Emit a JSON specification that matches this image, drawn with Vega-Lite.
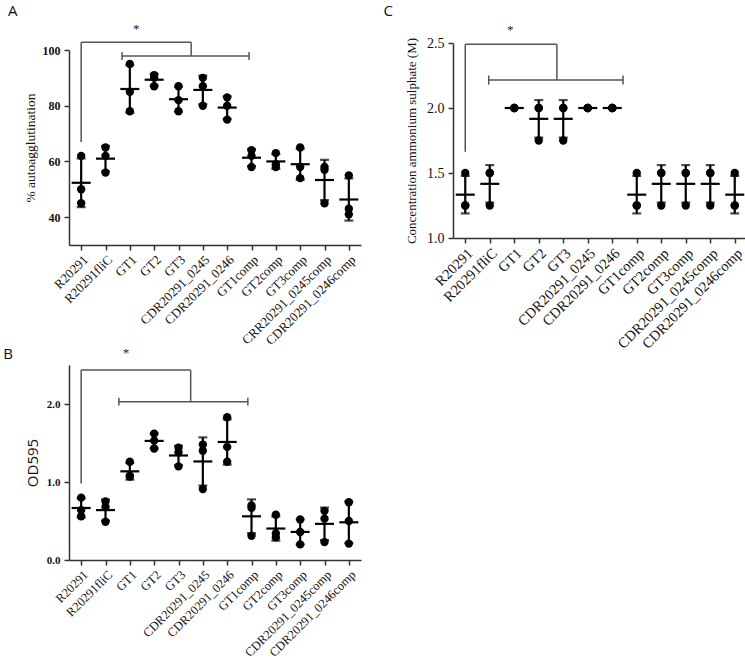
{
  "$schema": "https://vega.github.io/schema/vega-lite/v6.json",
  "padding": {"left": 3, "top": 3, "right": 0, "bottom": 0},
  "background": "white",
  "bounds": "flush",
  "align": "each",
  "columns": 2,
  "spacing": {"column": 92, "row": 120},
  "config": {
    "view": {"stroke": null},
    "axis": {"domainColor": "#333", "domainWidth": 1.5, "tickColor": "#333", "tickWidth": 1.5, "tickSize": 5, "labelColor": "#111", "titleColor": "#111", "grid": false, "labelFont": "Liberation Serif", "titleFont": "Liberation Serif", "titleFontWeight": "normal"},
    "title": {"font": "Open Sans", "fontSize": 15, "fontWeight": "normal", "anchor": "start", "frame": "bounds", "color": "#111"},
    "text": {"color": "#222", "fill": "#222"}
  },
  "datasets": {
    "A": [
      {"s": "R20291", "v": 62}, {"s": "R20291", "v": 50}, {"s": "R20291", "v": 45},
      {"s": "R20291fliC", "v": 65}, {"s": "R20291fliC", "v": 62}, {"s": "R20291fliC", "v": 56},
      {"s": "GT1", "v": 95}, {"s": "GT1", "v": 85}, {"s": "GT1", "v": 78},
      {"s": "GT2", "v": 91}, {"s": "GT2", "v": 90}, {"s": "GT2", "v": 87},
      {"s": "GT3", "v": 87}, {"s": "GT3", "v": 82}, {"s": "GT3", "v": 78},
      {"s": "CDR20291_0245", "v": 90}, {"s": "CDR20291_0245", "v": 87}, {"s": "CDR20291_0245", "v": 80},
      {"s": "CDR20291_0246", "v": 83}, {"s": "CDR20291_0246", "v": 80}, {"s": "CDR20291_0246", "v": 75},
      {"s": "GT1comp", "v": 64}, {"s": "GT1comp", "v": 62}, {"s": "GT1comp", "v": 58},
      {"s": "GT2comp", "v": 63}, {"s": "GT2comp", "v": 59}, {"s": "GT2comp", "v": 58},
      {"s": "GT3comp", "v": 65}, {"s": "GT3comp", "v": 58}, {"s": "GT3comp", "v": 54},
      {"s": "CRR20291_0245comp", "v": 58}, {"s": "CRR20291_0245comp", "v": 57}, {"s": "CRR20291_0245comp", "v": 45},
      {"s": "CDR20291_0246comp", "v": 55}, {"s": "CDR20291_0246comp", "v": 43}, {"s": "CDR20291_0246comp", "v": 41}
    ],
    "B": [
      {"s": "R20291", "v": 0.80}, {"s": "R20291", "v": 0.64}, {"s": "R20291", "v": 0.56},
      {"s": "R20291fliC", "v": 0.75}, {"s": "R20291fliC", "v": 0.68}, {"s": "R20291fliC", "v": 0.49},
      {"s": "GT1", "v": 1.26}, {"s": "GT1", "v": 1.08}, {"s": "GT1", "v": 1.07},
      {"s": "GT2", "v": 1.62}, {"s": "GT2", "v": 1.53}, {"s": "GT2", "v": 1.43},
      {"s": "GT3", "v": 1.44}, {"s": "GT3", "v": 1.38}, {"s": "GT3", "v": 1.20},
      {"s": "CDR20291_0245", "v": 1.48}, {"s": "CDR20291_0245", "v": 1.40}, {"s": "CDR20291_0245", "v": 0.91},
      {"s": "CDR20291_0246", "v": 1.83}, {"s": "CDR20291_0246", "v": 1.45}, {"s": "CDR20291_0246", "v": 1.26},
      {"s": "GT1comp", "v": 0.70}, {"s": "GT1comp", "v": 0.67}, {"s": "GT1comp", "v": 0.31},
      {"s": "GT2comp", "v": 0.58}, {"s": "GT2comp", "v": 0.34}, {"s": "GT2comp", "v": 0.29},
      {"s": "GT3comp", "v": 0.52}, {"s": "GT3comp", "v": 0.36}, {"s": "GT3comp", "v": 0.20},
      {"s": "CDR20291_0245comp", "v": 0.63}, {"s": "CDR20291_0245comp", "v": 0.53}, {"s": "CDR20291_0245comp", "v": 0.23},
      {"s": "CDR20291_0246comp", "v": 0.74}, {"s": "CDR20291_0246comp", "v": 0.50}, {"s": "CDR20291_0246comp", "v": 0.21}
    ],
    "C": [
      {"s": "R20291", "v": 1.5}, {"s": "R20291", "v": 1.25}, {"s": "R20291", "v": 1.25},
      {"s": "R20291fliC", "v": 1.5}, {"s": "R20291fliC", "v": 1.5}, {"s": "R20291fliC", "v": 1.25},
      {"s": "GT1", "v": 2}, {"s": "GT1", "v": 2}, {"s": "GT1", "v": 2},
      {"s": "GT2", "v": 2}, {"s": "GT2", "v": 2}, {"s": "GT2", "v": 1.75},
      {"s": "GT3", "v": 2}, {"s": "GT3", "v": 2}, {"s": "GT3", "v": 1.75},
      {"s": "CDR20291_0245", "v": 2}, {"s": "CDR20291_0245", "v": 2}, {"s": "CDR20291_0245", "v": 2},
      {"s": "CDR20291_0246", "v": 2}, {"s": "CDR20291_0246", "v": 2}, {"s": "CDR20291_0246", "v": 2},
      {"s": "GT1comp", "v": 1.5}, {"s": "GT1comp", "v": 1.25}, {"s": "GT1comp", "v": 1.25},
      {"s": "GT2comp", "v": 1.5}, {"s": "GT2comp", "v": 1.5}, {"s": "GT2comp", "v": 1.25},
      {"s": "GT3comp", "v": 1.5}, {"s": "GT3comp", "v": 1.5}, {"s": "GT3comp", "v": 1.25},
      {"s": "CDR20291_0245comp", "v": 1.5}, {"s": "CDR20291_0245comp", "v": 1.5}, {"s": "CDR20291_0245comp", "v": 1.25},
      {"s": "CDR20291_0246comp", "v": 1.5}, {"s": "CDR20291_0246comp", "v": 1.25}, {"s": "CDR20291_0246comp", "v": 1.25}
    ],
    "Abr": [
      {"x1": 0, "x2": 0, "y1": 67, "y2": 102.8},
      {"x1": 0, "x2": 4.52, "y1": 102.8, "y2": 102.8},
      {"x1": 4.52, "x2": 4.52, "y1": 102.8, "y2": 97.85},
      {"x1": 1.68, "x2": 6.9, "y1": 97.85, "y2": 97.85},
      {"x1": 1.68, "x2": 1.68, "y1": 96.4, "y2": 99.3},
      {"x1": 6.9, "x2": 6.9, "y1": 96.4, "y2": 99.3}
    ],
    "Astar": [{"x": 2.26, "y": 107.6, "t": "*"}],
    "Bbr": [
      {"x1": 0, "x2": 0, "y1": 0.98, "y2": 2.436},
      {"x1": 0, "x2": 4.5, "y1": 2.436, "y2": 2.436},
      {"x1": 4.5, "x2": 4.5, "y1": 2.436, "y2": 2.03},
      {"x1": 1.55, "x2": 6.85, "y1": 2.03, "y2": 2.03},
      {"x1": 1.55, "x2": 1.55, "y1": 1.98, "y2": 2.08},
      {"x1": 6.85, "x2": 6.85, "y1": 1.98, "y2": 2.08}
    ],
    "Bstar": [{"x": 1.84, "y": 2.655, "t": "*"}],
    "Cbr": [
      {"x1": 0, "x2": 0, "y1": 1.664, "y2": 2.49},
      {"x1": 0, "x2": 3.74, "y1": 2.49, "y2": 2.49},
      {"x1": 3.74, "x2": 3.74, "y1": 2.49, "y2": 2.215},
      {"x1": 0.957, "x2": 6.44, "y1": 2.215, "y2": 2.215},
      {"x1": 0.957, "x2": 0.957, "y1": 2.18, "y2": 2.25},
      {"x1": 6.44, "x2": 6.44, "y1": 2.18, "y2": 2.25}
    ],
    "Cstar": [{"x": 1.84, "y": 2.6, "t": "*"}]
  },
  "concat": [
    {
      "title": {"text": "A", "dx": -15, "offset": 4.2},
      "width": 292, "height": 202,
      "resolve": {"scale": {"x": "independent"}},
      "layer": [
        {
          "data": {"name": "A"},
          "layer": [
            {
              "mark": {"type": "errorbar", "extent": "stdev", "ticks": {"size": 9, "thickness": 2.2, "color": "black"}, "rule": {"strokeWidth": 2.2, "color": "black"}},
              "encoding": {
                "x": {"field": "s", "type": "nominal", "title": null, "scale": {"type": "point", "padding": 0.5, "domain": ["R20291", "R20291fliC", "GT1", "GT2", "GT3", "CDR20291_0245", "CDR20291_0246", "GT1comp", "GT2comp", "GT3comp", "CRR20291_0245comp", "CDR20291_0246comp"]}, "axis": {"labelAngle": -45, "labelFontSize": 13, "labelPadding": 3}},
                "y": {"field": "v", "type": "quantitative", "title": "% autoagglutination", "scale": {"domain": [30, 100], "range": [202, 7], "nice": false, "zero": false}, "axis": {"values": [40, 60, 80, 100], "labelFontWeight": "bold", "labelFontSize": 12, "labelPadding": 4, "titleFontSize": 13.5, "titlePadding": 5}}
              }
            },
            {
              "mark": {"type": "tick", "size": 19, "thickness": 2.2, "color": "black"},
              "encoding": {
                "x": {"field": "s", "type": "nominal", "title": null, "scale": {"type": "point", "padding": 0.5, "domain": ["R20291", "R20291fliC", "GT1", "GT2", "GT3", "CDR20291_0245", "CDR20291_0246", "GT1comp", "GT2comp", "GT3comp", "CRR20291_0245comp", "CDR20291_0246comp"]}},
                "y": {"aggregate": "mean", "field": "v", "type": "quantitative", "title": "% autoagglutination", "scale": {"domain": [30, 100], "range": [202, 7], "nice": false, "zero": false}}
              }
            },
            {
              "mark": {"type": "circle", "size": 70, "opacity": 1, "color": "black"},
              "encoding": {
                "x": {"field": "s", "type": "nominal", "title": null, "scale": {"type": "point", "padding": 0.5, "domain": ["R20291", "R20291fliC", "GT1", "GT2", "GT3", "CDR20291_0245", "CDR20291_0246", "GT1comp", "GT2comp", "GT3comp", "CRR20291_0245comp", "CDR20291_0246comp"]}},
                "y": {"field": "v", "type": "quantitative", "title": "% autoagglutination", "scale": {"domain": [30, 100], "range": [202, 7], "nice": false, "zero": false}}
              }
            }
          ]
        },
        {
          "layer": [
            {
              "data": {"name": "Abr"},
              "mark": {"type": "rule", "color": "#555", "strokeWidth": 1.5},
              "encoding": {
                "x": {"field": "x1", "type": "quantitative", "scale": {"domain": [-0.5, 11.5], "nice": false, "zero": false}, "axis": null},
                "x2": {"field": "x2"},
                "y": {"field": "y1", "type": "quantitative", "title": "% autoagglutination", "scale": {"domain": [30, 100], "range": [202, 7], "nice": false, "zero": false}},
                "y2": {"field": "y2"}
              }
            },
            {
              "data": {"name": "Astar"},
              "mark": {"type": "text", "font": "Liberation Serif", "fontSize": 13, "fill": "#222"},
              "encoding": {
                "x": {"field": "x", "type": "quantitative", "scale": {"domain": [-0.5, 11.5], "nice": false, "zero": false}, "axis": null},
                "y": {"field": "y", "type": "quantitative", "title": "% autoagglutination", "scale": {"domain": [30, 100], "range": [202, 7], "nice": false, "zero": false}},
                "text": {"field": "t"}
              }
            }
          ]
        }
      ]
    },
    {
      "title": {"text": "C", "dx": -22, "offset": 5.4},
      "width": 294, "height": 195,
      "resolve": {"scale": {"x": "independent"}},
      "layer": [
        {
          "data": {"name": "C"},
          "layer": [
            {
              "mark": {"type": "errorbar", "extent": "stdev", "ticks": {"size": 9, "thickness": 2.2, "color": "black"}, "rule": {"strokeWidth": 2.2, "color": "black"}},
              "encoding": {
                "x": {"field": "s", "type": "nominal", "title": null, "scale": {"type": "point", "padding": 0.5, "domain": ["R20291", "R20291fliC", "GT1", "GT2", "GT3", "CDR20291_0245", "CDR20291_0246", "GT1comp", "GT2comp", "GT3comp", "CDR20291_0245comp", "CDR20291_0246comp"]}, "axis": {"labelAngle": -45, "labelFontSize": 14.5, "labelPadding": 3}},
                "y": {"field": "v", "type": "quantitative", "title": "Concentration ammonium sulphate (M)", "scale": {"domain": [1, 2.5], "nice": false, "zero": false}, "axis": {"values": [1, 1.5, 2, 2.5], "format": ".1f", "labelFontSize": 14, "labelPadding": 4, "titleFontSize": 13, "titlePadding": 8}}
              }
            },
            {
              "mark": {"type": "tick", "size": 19, "thickness": 2.2, "color": "black"},
              "encoding": {
                "x": {"field": "s", "type": "nominal", "title": null, "scale": {"type": "point", "padding": 0.5, "domain": ["R20291", "R20291fliC", "GT1", "GT2", "GT3", "CDR20291_0245", "CDR20291_0246", "GT1comp", "GT2comp", "GT3comp", "CDR20291_0245comp", "CDR20291_0246comp"]}},
                "y": {"aggregate": "mean", "field": "v", "type": "quantitative", "title": "Concentration ammonium sulphate (M)", "scale": {"domain": [1, 2.5], "nice": false, "zero": false}}
              }
            },
            {
              "mark": {"type": "circle", "size": 70, "opacity": 1, "color": "black"},
              "encoding": {
                "x": {"field": "s", "type": "nominal", "title": null, "scale": {"type": "point", "padding": 0.5, "domain": ["R20291", "R20291fliC", "GT1", "GT2", "GT3", "CDR20291_0245", "CDR20291_0246", "GT1comp", "GT2comp", "GT3comp", "CDR20291_0245comp", "CDR20291_0246comp"]}},
                "y": {"field": "v", "type": "quantitative", "title": "Concentration ammonium sulphate (M)", "scale": {"domain": [1, 2.5], "nice": false, "zero": false}}
              }
            }
          ]
        },
        {
          "layer": [
            {
              "data": {"name": "Cbr"},
              "mark": {"type": "rule", "color": "#555", "strokeWidth": 1.5},
              "encoding": {
                "x": {"field": "x1", "type": "quantitative", "scale": {"domain": [-0.5, 11.5], "nice": false, "zero": false}, "axis": null},
                "x2": {"field": "x2"},
                "y": {"field": "y1", "type": "quantitative", "title": "Concentration ammonium sulphate (M)", "scale": {"domain": [1, 2.5], "nice": false, "zero": false}},
                "y2": {"field": "y2"}
              }
            },
            {
              "data": {"name": "Cstar"},
              "mark": {"type": "text", "font": "Liberation Serif", "fontSize": 13, "fill": "#222"},
              "encoding": {
                "x": {"field": "x", "type": "quantitative", "scale": {"domain": [-0.5, 11.5], "nice": false, "zero": false}, "axis": null},
                "y": {"field": "y", "type": "quantitative", "title": "Concentration ammonium sulphate (M)", "scale": {"domain": [1, 2.5], "nice": false, "zero": false}},
                "text": {"field": "t"}
              }
            }
          ]
        }
      ]
    },
    {
      "title": {"text": "B", "dx": -22, "offset": -15},
      "width": 292, "height": 195,
      "resolve": {"scale": {"x": "independent"}},
      "layer": [
        {
          "data": {"name": "B"},
          "layer": [
            {
              "mark": {"type": "errorbar", "extent": "stdev", "ticks": {"size": 9, "thickness": 2.2, "color": "black"}, "rule": {"strokeWidth": 2.2, "color": "black"}},
              "encoding": {
                "x": {"field": "s", "type": "nominal", "title": null, "scale": {"type": "point", "padding": 0.5, "domain": ["R20291", "R20291fliC", "GT1", "GT2", "GT3", "CDR20291_0245", "CDR20291_0246", "GT1comp", "GT2comp", "GT3comp", "CDR20291_0245comp", "CDR20291_0246comp"]}, "axis": {"labelAngle": -45, "labelFontSize": 12.5, "labelPadding": 3}},
                "y": {"field": "v", "type": "quantitative", "title": "OD595", "scale": {"domain": [0, 2.5], "nice": false, "zero": false}, "axis": {"values": [0, 0.5, 1, 1.5, 2, 2.5], "format": ".1f", "labelFontWeight": "bold", "labelFontSize": 11, "labelPadding": 4, "titleFont": "Open Sans", "titleFontSize": 15, "titlePadding": 6}}
              }
            },
            {
              "mark": {"type": "tick", "size": 19, "thickness": 2.2, "color": "black"},
              "encoding": {
                "x": {"field": "s", "type": "nominal", "title": null, "scale": {"type": "point", "padding": 0.5, "domain": ["R20291", "R20291fliC", "GT1", "GT2", "GT3", "CDR20291_0245", "CDR20291_0246", "GT1comp", "GT2comp", "GT3comp", "CDR20291_0245comp", "CDR20291_0246comp"]}},
                "y": {"aggregate": "mean", "field": "v", "type": "quantitative", "title": "OD595", "scale": {"domain": [0, 2.5], "nice": false, "zero": false}}
              }
            },
            {
              "mark": {"type": "circle", "size": 70, "opacity": 1, "color": "black"},
              "encoding": {
                "x": {"field": "s", "type": "nominal", "title": null, "scale": {"type": "point", "padding": 0.5, "domain": ["R20291", "R20291fliC", "GT1", "GT2", "GT3", "CDR20291_0245", "CDR20291_0246", "GT1comp", "GT2comp", "GT3comp", "CDR20291_0245comp", "CDR20291_0246comp"]}},
                "y": {"field": "v", "type": "quantitative", "title": "OD595", "scale": {"domain": [0, 2.5], "nice": false, "zero": false}}
              }
            }
          ]
        },
        {
          "layer": [
            {
              "data": {"name": "Bbr"},
              "mark": {"type": "rule", "color": "#555", "strokeWidth": 1.5},
              "encoding": {
                "x": {"field": "x1", "type": "quantitative", "scale": {"domain": [-0.5, 11.5], "nice": false, "zero": false}, "axis": null},
                "x2": {"field": "x2"},
                "y": {"field": "y1", "type": "quantitative", "title": "OD595", "scale": {"domain": [0, 2.5], "nice": false, "zero": false}},
                "y2": {"field": "y2"}
              }
            },
            {
              "data": {"name": "Bstar"},
              "mark": {"type": "text", "font": "Liberation Serif", "fontSize": 13, "fill": "#222"},
              "encoding": {
                "x": {"field": "x", "type": "quantitative", "scale": {"domain": [-0.5, 11.5], "nice": false, "zero": false}, "axis": null},
                "y": {"field": "y", "type": "quantitative", "title": "OD595", "scale": {"domain": [0, 2.5], "nice": false, "zero": false}},
                "text": {"field": "t"}
              }
            }
          ]
        }
      ]
    }
  ]
}
